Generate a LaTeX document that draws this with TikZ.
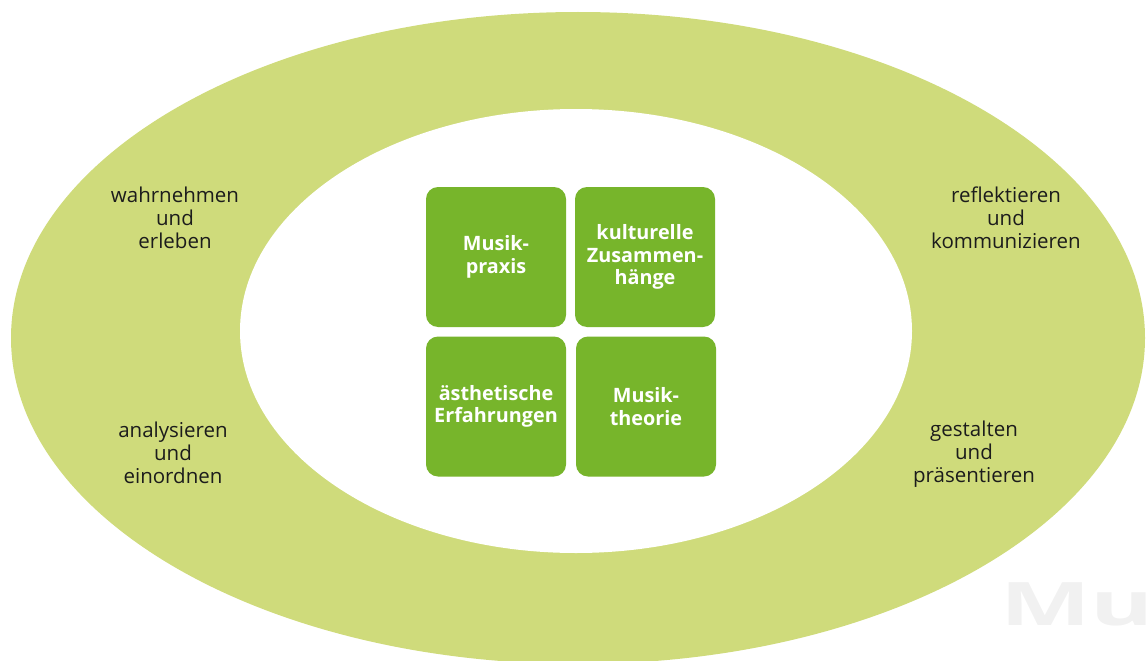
\documentclass[tikz,border=0pt]{standalone}
\usepackage{fontspec}
\setmainfont{Open Sans}
\definecolor{ring}{HTML}{CFDB7B}
\definecolor{tile}{HTML}{77B52B}
\definecolor{ink}{HTML}{1C1C1C}
\definecolor{mark}{HTML}{F1F1F1}
\begin{document}
\begin{tikzpicture}[x=1pt,y=-1pt,
  tilebox/.style={fill=tile, rounded corners=12pt, minimum width=140pt,
    minimum height=140pt, inner sep=0pt, text=white,
    font=\bfseries\fontsize{19.8}{22.5}\selectfont, align=center},
  skill/.style={text=ink, font=\fontsize{20.5}{23}\selectfont, align=center, inner sep=0pt}]
\useasboundingbox (0,0) rectangle (1146,661);
\clip (0,0) rectangle (1146,661);
% outer ring and its white centre
\fill[ring] (578,338) ellipse [x radius=567pt, y radius=326pt];
\fill[white] (576,331) ellipse [x radius=336pt, y radius=222pt];
% faint lettering at the lower right
\node[anchor=base west, inner sep=0pt, text=mark, font=\bfseries\fontsize{60}{60}\selectfont] (mu) at (1000,625) {\scalebox{1.6}[1]{Mu}};
% the four fields
\node[tilebox] (praxis) at (496,257) {Musik-\\praxis};
\node[tilebox] (kultur) at (645,257) {kulturelle\\Zusammen-\\hänge};
\node[tilebox] (aesth) at (496,406.5) {ästhetische\\Erfahrungen};
\node[tilebox] (theorie) at (646,406.5) {Musik-\\theorie};
% the four activities on the ring
\node[skill] (wahr) at (175,218) {wahrnehmen\\und\\erleben};
\node[skill] (anal) at (173,453) {analysieren\\und\\einordnen};
\node[skill] (refl) at (1006,218) {reflektieren\\und\\kommunizieren};
\node[skill] (gest) at (974,454) {gestalten\\und\\präsentieren};
\end{tikzpicture}
\end{document}
